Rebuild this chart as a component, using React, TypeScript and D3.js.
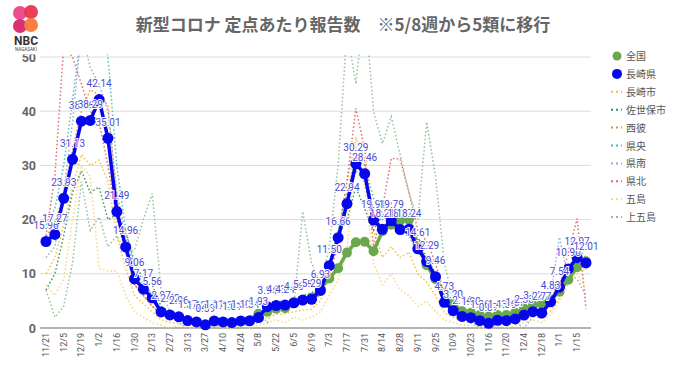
import React from "react";
import * as d3 from "d3";

const weeks = ["11/21","11/28","12/5","12/12","12/19","12/26","1/2","1/9","1/16","1/23","1/30","2/6","2/13","2/20","2/27","3/6","3/13","3/20","3/27","4/3","4/10","4/17","4/24","5/1","5/8","5/15","5/22","5/29","6/5","6/12","6/19","6/26","7/3","7/10","7/17","7/24","7/31","8/7","8/14","8/21","8/28","9/4","9/11","9/18","9/25","10/2","10/9","10/16","10/23","10/30","11/6","11/13","11/20","11/27","12/4","12/11","12/18","12/25","1/1","1/8","1/15","1/22"];

const yTicks = [0, 10, 20, 30, 40, 50];

const nagasakiPref = [15.96,17.27,23.93,31.13,38.16,38.29,42.14,35.01,21.49,14.96,9.06,7.17,5.56,2.97,2.42,2.06,1.37,1.12,0.59,1.31,1.13,1.01,1.30,1.34,1.93,3.94,4.13,4.24,4.66,5.15,5.29,6.93,11.50,16.66,22.94,30.29,28.46,19.91,18.21,19.79,18.17,18.24,14.61,12.29,9.46,4.73,3.20,2.14,1.90,1.36,0.87,1.43,1.36,1.67,2.38,3.02,2.77,4.83,7.54,10.90,12.97,12.01];

const national: (number | null)[] = [null,null,null,null,null,null,null,null,null,null,null,null,null,null,null,null,null,null,null,null,null,null,null,null,2.63,3.0,3.55,3.63,4.55,5.11,5.60,7.24,9.14,11.04,13.91,15.81,15.91,14.16,17.84,19.07,19.8,20.0,15.5,11.6,9.0,6.5,4.5,3.1,2.8,2.4,2.1,2.4,2.4,2.8,3.6,4.2,4.4,5.2,6.7,8.9,11.2,12.3];

const nagasakiCity = [10,13,19,26,32,30,31,27,17,11,6,4.5,3,1.5,1,0.8,0.5,0.4,0.2,0.5,0.4,0.3,0.5,0.6,0.9,2.0,2.5,2.6,3.0,3.3,3.5,5.0,9.5,17,27,35,31,18,13,15,13,14,10,8.5,6,2.8,2,1.2,1.0,0.7,0.4,0.9,0.8,1.1,1.6,2.2,1.8,3.2,5.5,9,11.5,10.5];
const sasebo = [7,10,17,25,29,25,26,20,21,18,12,9,8,4,3,2.5,1.8,1.5,1.0,1.6,1.5,1.3,1.6,1.6,2.4,4.5,5.0,4.8,5.2,6.0,6.5,7.5,12,17,20,26,22,18,21,19,20,21,16,13,10,5.5,3.8,2.6,2.2,1.6,1.2,1.8,1.7,2.0,2.8,3.5,3.2,5.5,8,11,13,12.5];
const seihi = [17,19,25,33,40,44,43,41,24,15,8,6,4,2.5,2,1.5,1.2,0.8,0.5,1,0.8,0.9,1.1,1,1.8,3.5,3.8,3.5,4.2,4.5,5,6,10,15,24,33,30,21,17,22,19,17,14,12,10,5,3.5,2,1.8,1.2,0.8,1.3,1.2,1.5,2.2,2.8,2.5,4.5,7,10,13,11];
const kenou = [19,22,30,42,55,52,58,50,30,18,11,8,6,3.5,2.8,2.4,1.6,1.3,0.8,1.5,1.3,1.2,1.5,1.5,2.2,4.2,4.5,4.4,5,5.6,5.8,7.5,12,18,25,31,30,24,20,23,19,18,15,13,10,5,3.4,2.3,2,1.5,1,1.6,1.5,1.8,2.5,3.2,3,5,8,11,13.5,12.5];
const kennan = [13,15,25,38,55,48,45,40,25,17,10,7.5,6.5,3.2,2.6,2.4,1.5,1.2,0.8,1.3,1.1,1.0,1.2,1.3,2.0,3.6,3.9,4.0,4.4,4.9,5.0,6.5,11,16,23,29,27,20,17,19,17.5,17,14,12,9,4.5,3,2.0,1.8,1.3,0.8,1.4,1.3,1.6,2.3,3,2.7,6,16.8,9,15,13];
const kenhoku = [17,28,52,50,45,40,38,30,20,14,8,6,4,2.5,2,1.7,1.2,1,0.6,1.2,1,0.9,1.2,1.3,1.8,3.5,3.8,4,4.3,4.8,5,6.5,11,17,27,40.5,33,15,22,31.3,31.2,25,18,16,12,6,3.5,2.2,1.8,1.3,0.8,1.4,1.3,1.6,2.3,3,2.6,4.5,7.5,14,20.2,3.6];
const goto = [8,6,9,20,30,28,11,10.5,10.5,6,3,2,1,0.5,0,0.5,0,0,0,0.5,0,0,0.5,0,0.5,1,1.5,1,2,1.5,2,3,6,9,14,34,26,12,8,10,7,6,4,5,3,1.5,1,0.5,0.5,0,0,0.5,0,0.5,1,1.5,1,2.5,5,8,10,7];
const kamigoto = [7,2,4,12,27,18,20.5,15,17,14,14.4,20,24.8,7,3,1,0,2,0,0,1,0,0,2,3,1,5,3,4,21.5,12,8,15,30,55,45,60,40,34,39,32,25,20,38,28,12,5,2,1,0,1,0,2,1,0,2,4,5,8,10,9,6];

const regionNames = ["長崎市","佐世保市","西彼","県央","県南","県北","五島","上五島"];
const regionColors = ["#f1c232","#3d8b5e","#e69138","#4fb8c6","#8ea9d8","#e06666","#f6d77a","#8fbf95"];
const regionData = [nagasakiCity, sasebo, seihi, kenou, kennan, kenhoku, goto, kamigoto];

export default function App() {
  const W = 680, H = 382;
  const x = d3.scalePoint<number>().domain(d3.range(weeks.length)).range([46, 586]);
  const y = d3.scaleLinear().domain([0, 50]).range([328, 57]);
  const line = d3.line<number | null>()
    .defined((d) => d != null)
    .x((_, i) => x(i) as number)
    .y((d) => y(d as number));

  const legendY0 = 56, legendStep = 17.9;
  const legendItems = ["全国", "長崎県", ...regionNames];

  return (
    <svg width={W} height={H} style={{ position: "absolute", left: 0, top: 0, background: "#fff" }}
      fontFamily="'Noto Sans CJK JP', 'Noto Sans', Roboto, sans-serif">
      <defs>
        <clipPath id="plotClip">
          <rect x={40} y={52} width={555} height={285} />
        </clipPath>
      </defs>
      <rect x={0} y={0} width={W} height={H} fill="#fff" />
      {yTicks.map((t) => (
        <line key={t} x1={40} x2={591} y1={y(t)} y2={y(t)}
          stroke={t === 0 ? "#9a9a9a" : "#dcdcdc"} strokeWidth={t === 0 ? 1.6 : 1} />
      ))}
      {yTicks.map((t) => (
        <text key={"yl" + t} x={36} y={y(t) + 4.5} textAnchor="end" fontSize={12.5}
          fontWeight="bold" fill="#666" fontFamily="Roboto, sans-serif">{t}</text>
      ))}
      {weeks.map((w, i) => i % 2 === 0 ? (
        <text key={"xl" + i} transform={`translate(${(x(i) as number) + 3},333) rotate(-90)`}
          textAnchor="end" fontSize={9} fill="#555" fontFamily="Roboto, sans-serif">{w}</text>
      ) : null)}
      <g clipPath="url(#plotClip)">
        {regionData.map((s, k) => (
          <path key={"r" + k} d={line(s) || ""} fill="none" stroke={regionColors[k]}
            strokeWidth={1.5} strokeDasharray="1.6 2.2" opacity={0.9} />
        ))}
      </g>
      <path d={line(national) || ""} fill="none" stroke="#6aa84f" strokeWidth={3.5} />
      {national.map((v, i) => v == null ? null : (
        <circle key={"n" + i} cx={x(i)} cy={y(v)} r={5} fill="#6aa84f" />
      ))}
      <path d={line(nagasakiPref) || ""} fill="none" stroke="#0707ee" strokeWidth={3.5} />
      {nagasakiPref.map((v, i) => (
        <circle key={"p" + i} cx={x(i)} cy={y(v)} r={5.5} fill="#0707ee" />
      ))}
      {nagasakiPref.map((v, i) => (
        <text key={"pl" + i} x={x(i)} y={y(v) - 12.5} textAnchor="middle" fontSize={10}
          fill="#4a4acf" stroke="#fff" strokeWidth={2} paintOrder="stroke"
          fontFamily="Roboto, sans-serif">{v.toFixed(2)}</text>
      ))}
      <rect x={0} y={0} width={600} height={54.5} fill="#fff" />
      {legendItems.map((name, k) => {
        const ly = legendY0 + k * legendStep;
        let marker;
        if (k === 0) marker = <circle cx={617} cy={ly} r={4.5} fill="#6aa84f" />;
        else if (k === 1) marker = <circle cx={617} cy={ly} r={5} fill="#0707ee" />;
        else marker = <line x1={611} x2={622} y1={ly} y2={ly} stroke={regionColors[k - 2]}
          strokeWidth={2} strokeDasharray="2 3" />;
        return (
          <g key={"lg" + k}>
            {marker}
            <text x={626} y={ly + 4} fontSize={10} fill="#555">{name}</text>
          </g>
        );
      })}
      <circle cx={20} cy={13} r={7} fill="#ee4d8e" />
      <circle cx={31} cy={12} r={7} fill="#e8364f" opacity={0.95} />
      <circle cx={20} cy={26} r={7} fill="#d6246e" opacity={0.95} />
      <circle cx={31} cy={25} r={7} fill="#f5793a" opacity={0.95} />
      <text x={26} y={45} textAnchor="middle" fontSize={12} fontWeight="bold" fill="#333"
        fontFamily="Roboto, sans-serif">NBC</text>
      <text x={26} y={51} textAnchor="middle" fontSize={4.5} fill="#444"
        fontFamily="Roboto, sans-serif">NAGASAKI</text>
      <text x={343} y={31} textAnchor="middle" fontSize={17} fontWeight="bold" fill="#666">
        新型コロナ 定点あたり報告数　※5/8週から5類に移行
      </text>
    </svg>
  );
}
